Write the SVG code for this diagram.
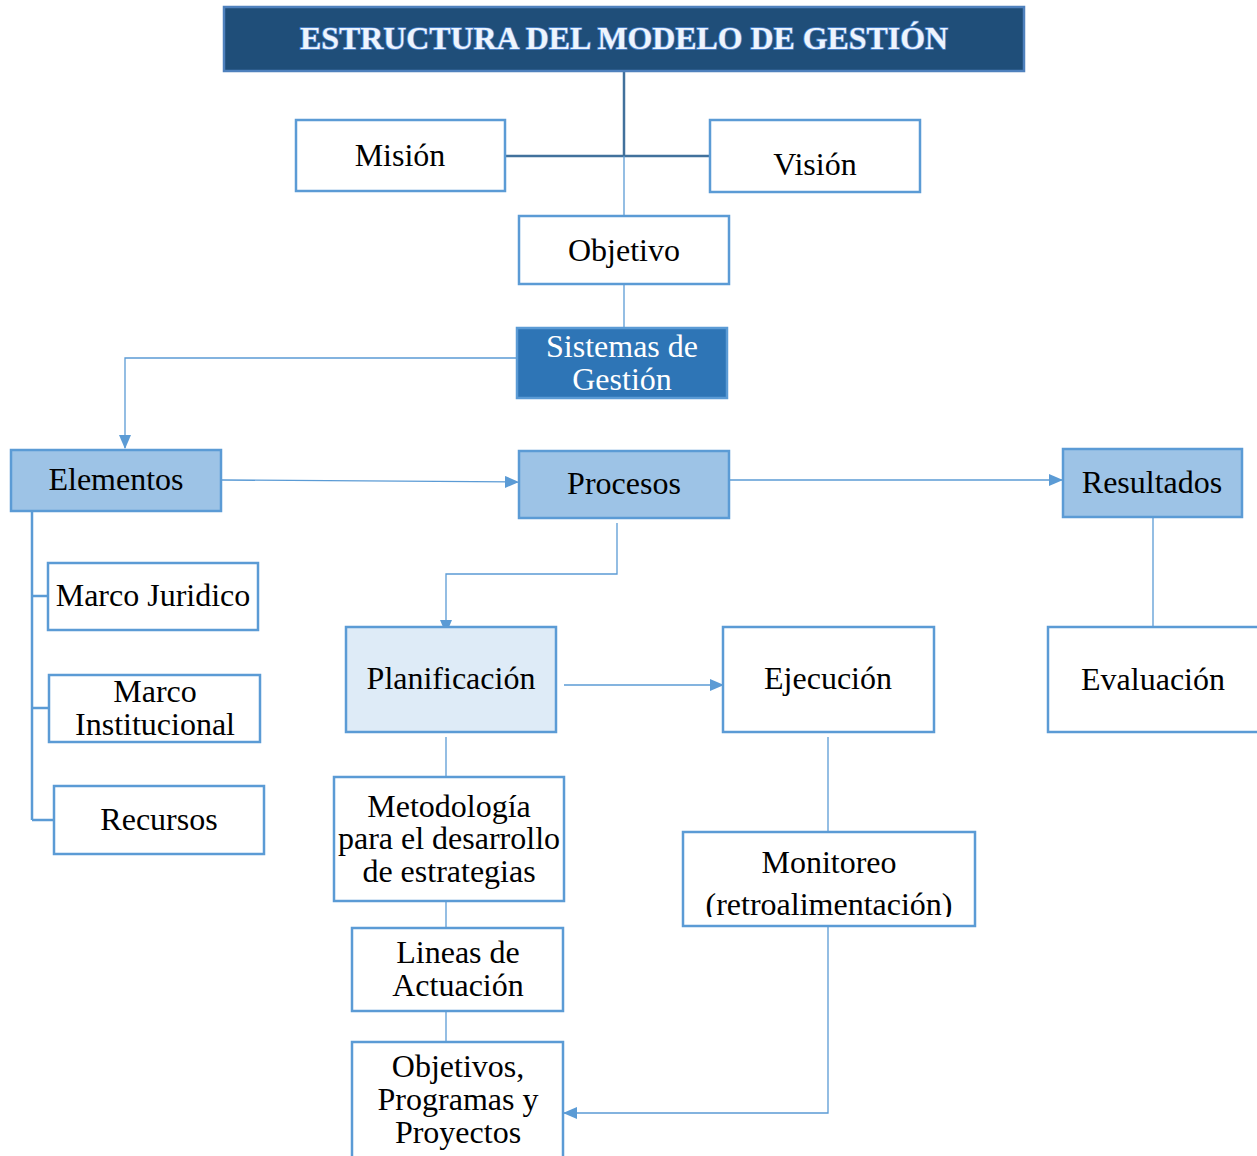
<svg xmlns="http://www.w3.org/2000/svg" width="1257" height="1156" viewBox="0 0 1257 1156">
<style>
.box{fill:#ffffff;stroke:#5b9bd5;stroke-width:2.5}
.lt{fill:#9dc3e6;stroke:#5b9bd5;stroke-width:2.5}
.pl{fill:#deebf7;stroke:#5b9bd5;stroke-width:2.5}
.t{font-family:"Liberation Serif","Times New Roman",serif;font-size:32px;fill:#000;text-anchor:middle}
.w{fill:#ffffff}
.c{fill:none;stroke:#5b9bd5;stroke-width:1.3}
.ck{fill:none;stroke:#5b9bd5;stroke-width:2.5}
.cd{fill:none;stroke:#41719c;stroke-width:2.5}
</style>
<defs>
<marker id="arr" viewBox="0 0 14 12" refX="13" refY="6" markerWidth="14" markerHeight="12" markerUnits="userSpaceOnUse" orient="auto">
<path d="M0,0 L14,6 L0,12 Z" fill="#5b9bd5"/>
</marker>
<clipPath id="monclip"><rect x="684" y="833" width="290" height="84"/></clipPath>
</defs>
<g id="connectors">
<path class="cd" d="M624,71 V156"/>
<path class="cd" d="M505,156 H710"/>
<path class="c" d="M624,156 V216"/>
<path class="c" d="M624,284 V328"/>
<path class="c" d="M517,358 H125 V448" marker-end="url(#arr)"/>
<path class="c" d="M222,480 L518,482" marker-end="url(#arr)"/>
<path class="c" d="M730,480 H1062" marker-end="url(#arr)"/>
<path class="c" d="M1153,517 V627"/>
<path class="ck" d="M32,511 V820"/>
<path class="ck" d="M32,596 H48 M32,708 H49 M32,820 H54"/>
<path class="c" d="M617,523 V574 H446 V633" marker-end="url(#arr)"/>
<path class="c" d="M564,685 H723" marker-end="url(#arr)"/>
<path class="c" d="M446,737 V777"/>
<path class="c" d="M446,901 V928"/>
<path class="c" d="M446,1011 V1042"/>
<path class="c" d="M828,737 V832"/>
<path class="c" d="M828,926 V1113 H564" marker-end="url(#arr)"/>
</g>
<g id="title">
<rect x="224" y="7" width="800" height="64" fill="#1f4e79" stroke="#4f81bd" stroke-width="2.5"/>
<text x="624" y="49" font-family="'Liberation Serif','Times New Roman',serif" font-size="32" font-weight="bold" text-anchor="middle" textLength="648" lengthAdjust="spacingAndGlyphs" fill="#eef4fc" stroke="#4f86d0" stroke-width="1.6" paint-order="stroke">ESTRUCTURA DEL MODELO DE GESTIÓN</text>
</g>
<g id="mision"><rect class="box" x="296" y="120" width="209" height="71"/><text class="t" x="400" y="166">Misión</text></g>
<g id="vision"><rect class="box" x="710" y="120" width="210" height="72"/><text class="t" x="815" y="175">Visión</text></g>
<g id="objetivo"><rect class="box" x="519" y="216" width="210" height="68"/><text class="t" x="624" y="261">Objetivo</text></g>
<g id="sistemas"><rect x="517" y="328" width="210" height="70" fill="#2e75b6" stroke="#5b9bd5" stroke-width="2.5"/><text class="t w" x="622" y="357">Sistemas de</text><text class="t w" x="622" y="390">Gestión</text></g>
<g id="elementos"><rect class="lt" x="11" y="450" width="210" height="61"/><text class="t" x="116" y="490">Elementos</text></g>
<g id="procesos"><rect class="lt" x="519" y="451" width="210" height="67"/><text class="t" x="624" y="494">Procesos</text></g>
<g id="resultados"><rect class="lt" x="1063" y="449" width="179" height="68"/><text class="t" x="1152" y="493">Resultados</text></g>
<g id="evaluacion"><rect class="box" x="1048" y="627" width="215" height="105"/><text class="t" x="1153" y="690">Evaluación</text></g>
<g id="marco-juridico"><rect class="box" x="48" y="563" width="210" height="67"/><text class="t" x="153" y="606">Marco Juridico</text></g>
<g id="marco-institucional"><rect class="box" x="49" y="675" width="211" height="67"/><text class="t" x="155" y="702">Marco</text><text class="t" x="155" y="735">Institucional</text></g>
<g id="recursos"><rect class="box" x="54" y="786" width="210" height="68"/><text class="t" x="159" y="830">Recursos</text></g>
<g id="planificacion"><rect class="pl" x="346" y="627" width="210" height="105"/><text class="t" x="451" y="689">Planificación</text></g>
<g id="ejecucion"><rect class="box" x="723" y="627" width="211" height="105"/><text class="t" x="828" y="689">Ejecución</text></g>
<g id="metodologia"><rect class="box" x="334" y="777" width="230" height="124"/><text class="t" x="449" y="817">Metodología</text><text class="t" x="449" y="849">para el desarrollo</text><text class="t" x="449" y="882">de estrategias</text></g>
<g id="lineas"><rect class="box" x="352" y="928" width="211" height="83"/><text class="t" x="458" y="963">Lineas de</text><text class="t" x="458" y="996">Actuación</text></g>
<g id="objetivos-programas"><rect class="box" x="352" y="1042" width="211" height="125"/><text class="t" x="458" y="1077">Objetivos,</text><text class="t" x="458" y="1110">Programas y</text><text class="t" x="458" y="1143">Proyectos</text></g>
<g id="monitoreo"><rect class="box" x="683" y="832" width="292" height="94"/><text class="t" x="829" y="873">Monitoreo</text><text class="t" x="829" y="915" clip-path="url(#monclip)">(retroalimentación)</text></g>
</svg>
